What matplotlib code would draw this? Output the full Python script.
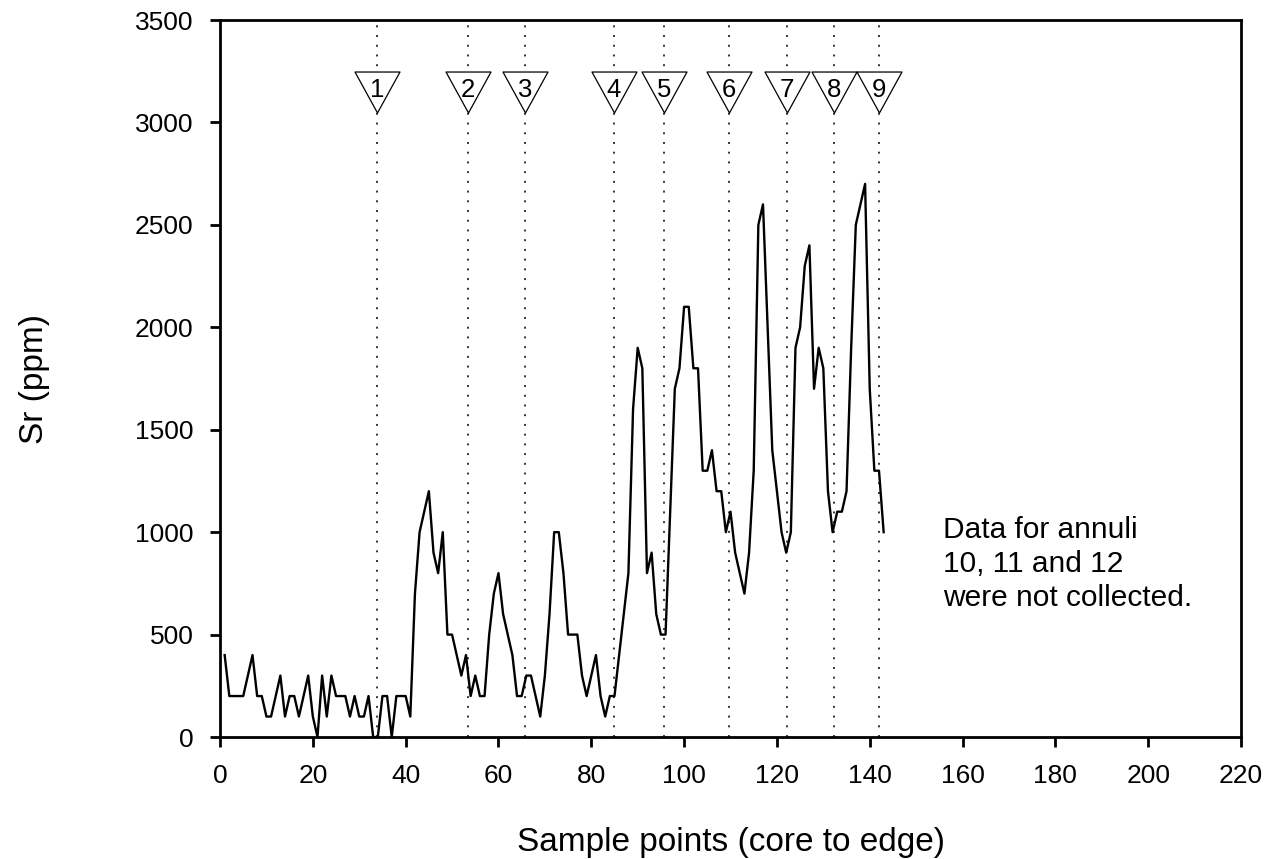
import matplotlib
matplotlib.use('Agg')
import matplotlib.pyplot as plt
from matplotlib.path import Path
import numpy as np

plt.rcParams['font.family'] = ['Liberation Sans', 'DejaVu Sans']

# Sr concentration per sample point (1..143)
sr = [400, 200, 200, 200, 200, 300, 400, 200, 200, 100,
      100, 200, 300, 100, 200, 200, 100, 200, 300, 100,
      0, 300, 100, 300, 200, 200, 200, 100, 200, 100,
      100, 200, 0, 0, 200, 200, 0, 200, 200, 200,
      100, 700, 1000, 1100, 1200, 900, 800, 1000, 500, 500,
      400, 300, 400, 200, 300, 200, 200, 500, 700, 800,
      600, 500, 400, 200, 200, 300, 300, 200, 100, 300,
      600, 1000, 1000, 800, 500, 500, 500, 300, 200, 300,
      400, 200, 100, 200, 200, 400, 600, 800, 1600, 1900,
      1800, 800, 900, 600, 500, 500, 1100, 1700, 1800, 2100,
      2100, 1800, 1800, 1300, 1300, 1400, 1200, 1200, 1000, 1100,
      900, 800, 700, 900, 1300, 2500, 2600, 2000, 1400, 1200,
      1000, 900, 1000, 1900, 2000, 2300, 2400, 1700, 1900, 1800,
      1200, 1000, 1100, 1100, 1200, 1900, 2500, 2600, 2700, 1700,
      1300, 1300, 1000]
samples = np.arange(1, len(sr) + 1)

# annulus boundaries
annuli_x = [33.9, 53.5, 65.8, 84.9, 95.6, 109.7, 122.2, 132.3, 141.9]
annuli_lbl = ['1', '2', '3', '4', '5', '6', '7', '8', '9']

fig = plt.figure(figsize=(12.77, 8.59), dpi=100)
ax = fig.add_axes([0.1723, 0.1420, 0.7995, 0.8347])

for xa in annuli_x:
    ax.axvline(xa, color='#333333', lw=1.4, linestyle=(0, (1, 4)), zorder=1)

ax.plot(samples, sr, color='k', lw=1.7, zorder=2, clip_on=False)

tri = Path([(-1, 0.91), (1, 0.91), (0, -0.91), (-1, 0.91)],
           [Path.MOVETO, Path.LINETO, Path.LINETO, Path.CLOSEPOLY])
ax.plot(annuli_x, [3150] * len(annuli_x), linestyle='none', marker=tri,
        markersize=32.4, markerfacecolor='white', markeredgecolor='k',
        markeredgewidth=0.9, zorder=3)
for xa, lb in zip(annuli_x, annuli_lbl):
    ax.text(xa, 3123, lb, ha='center', va='baseline', fontsize=18.5, zorder=4)

ax.text(155.8, 1080, 'Data for annuli\n10, 11 and 12\nwere not collected.',
        ha='left', va='top', fontsize=21.5, linespacing=1.28)

ax.set_xlim(0, 220)
ax.set_ylim(0, 3500)
ax.set_xticks(np.arange(0, 221, 20))
ax.set_yticks(np.arange(0, 3501, 500))

for sp in ax.spines.values():
    sp.set_linewidth(2)
ax.tick_params(direction='out', length=7.2, width=2, labelsize=19)
ax.tick_params(axis='y', pad=12)
ax.tick_params(axis='x', pad=12)

ax.set_xlabel('Sample points (core to edge)', fontsize=24, labelpad=28)
ax.set_ylabel('Sr (ppm)', fontsize=24, labelpad=61)

fig.savefig('out.png', dpi=100)
